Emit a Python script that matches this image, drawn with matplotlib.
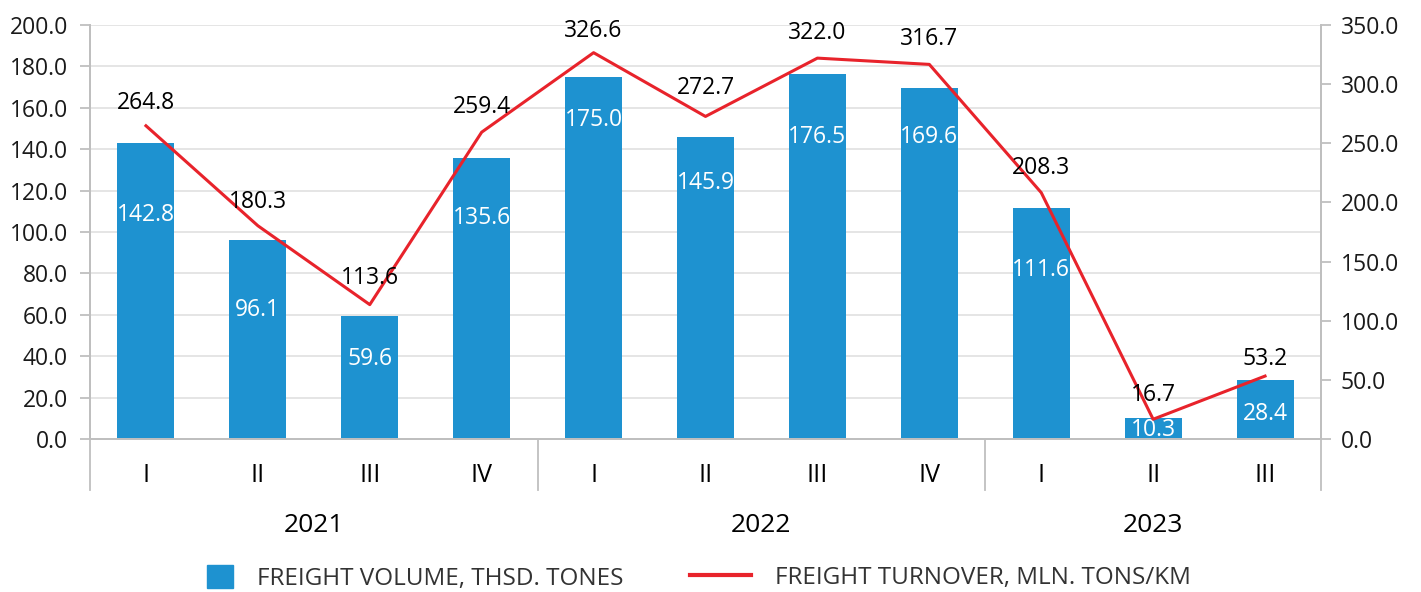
import matplotlib.pyplot as plt
from matplotlib.lines import Line2D
from matplotlib.patches import Rectangle
from matplotlib.transforms import blended_transform_factory

quarters = ['I', 'II', 'III', 'IV', 'I', 'II', 'III', 'IV', 'I', 'II', 'III']
years = ['2021', '2022', '2023']
year_sizes = [4, 4, 3]
volume = [142.8, 96.1, 59.6, 135.6, 175.0, 145.9, 176.5, 169.6, 111.6, 10.3, 28.4]
turnover = [264.8, 180.3, 113.6, 259.4, 326.6, 272.7, 322.0, 316.7, 208.3, 16.7, 53.2]

# how far below the bar top each white label sits (px), and line label lift (px)
vol_drop = [72, 70, 43, 60, 43, 46, 63, 49, 62, 12, 34]
turn_lift = [23, 24, 27, 25, 22, 28, 25, 25, 25, 24, 17]

blue = '#1e92d0'
red = '#e8232b'
grey = '#bfbfbf'
plt.rcParams['font.family'] = ['Open Sans', 'DejaVu Sans']

fig = plt.figure(figsize=(14.21, 5.92), dpi=100)
ax = fig.add_axes([90 / 1421, 153 / 592, 1231 / 1421, 414 / 592])
ax2 = ax.twinx()

x = list(range(len(volume)))
ax.bar(x, volume, width=0.51, color=blue, zorder=2)
ax2.plot(x, turnover, color=red, lw=2.2, zorder=3)

ax.set_xlim(-0.5, len(volume) - 0.5)
ax.set_ylim(0, 200)
ax2.set_ylim(0, 350)
ax.set_yticks(range(0, 201, 20))
ax.set_yticklabels([f'{v:.1f}' for v in range(0, 201, 20)])
ax2.set_yticks(range(0, 351, 50))
ax2.set_yticklabels([f'{v:.1f}' for v in range(0, 351, 50)])

ax.grid(axis='y', color='#e0e0e0', lw=1.2, zorder=0)
ax.set_axisbelow(True)
for a in (ax, ax2):
    a.spines['top'].set_visible(False)
    for s in ('left', 'right', 'bottom'):
        a.spines[s].set_color(grey)
        a.spines[s].set_linewidth(1.3)
ax.tick_params(axis='y', length=7, width=1.3, color=grey, pad=9, labelsize=16.5, labelcolor='#1a1a1a')
ax2.tick_params(axis='y', length=7, width=1.3, color=grey, pad=7, labelsize=16.5, labelcolor='#1a1a1a')

ax.set_xticks(x)
ax.set_xticklabels(quarters)
ax.tick_params(axis='x', length=0, pad=17, labelsize=18, labelcolor='#000000')

# bar labels
for xi, v, d in zip(x, volume, vol_drop):
    ax.annotate(f'{v:.1f}', (xi, v), xytext=(0, -d * 0.72), textcoords='offset points',
                ha='center', va='center', color='white', fontsize=16.5, zorder=4)
for xi, v, d in zip(x, turnover, turn_lift):
    ax2.annotate(f'{v:.1f}', (xi, v), xytext=(0, d * 0.72), textcoords='offset points',
                 ha='center', va='center', color='black', fontsize=16.5, zorder=4)

# year groups
tr = blended_transform_factory(ax.transData, ax.transAxes)
start = -0.5
ax.plot([start, start], [0, -51 / 414], transform=tr, color=grey, lw=1.3, clip_on=False)
for yr, n in zip(years, year_sizes):
    end = start + n
    ax.plot([end, end], [0, -51 / 414], transform=tr, color=grey, lw=1.3, clip_on=False)
    ax.text((start + end) / 2, -86 / 414, yr, transform=tr, ha='center', va='center',
            fontsize=19, color='black')
    start = end

leg_kw = dict(loc='center left', frameon=False, fontsize=17.5, borderpad=0, borderaxespad=0,
              labelcolor='#333333', handletextpad=1.0)
fig.legend([Rectangle((0, 0), 1, 1, color=blue)], ['FREIGHT VOLUME, THSD. TONES'],
           bbox_to_anchor=(207 / 1421, 14 / 592), handlelength=1.05, handleheight=1.05,
           **leg_kw)
fig.legend([Line2D([], [], color=red, lw=3)], ['FREIGHT TURNOVER, MLN. TONS/KM'],
           bbox_to_anchor=(690 / 1421, 14 / 592), handlelength=2.5, **leg_kw)

fig.savefig('out.png', dpi=100)
